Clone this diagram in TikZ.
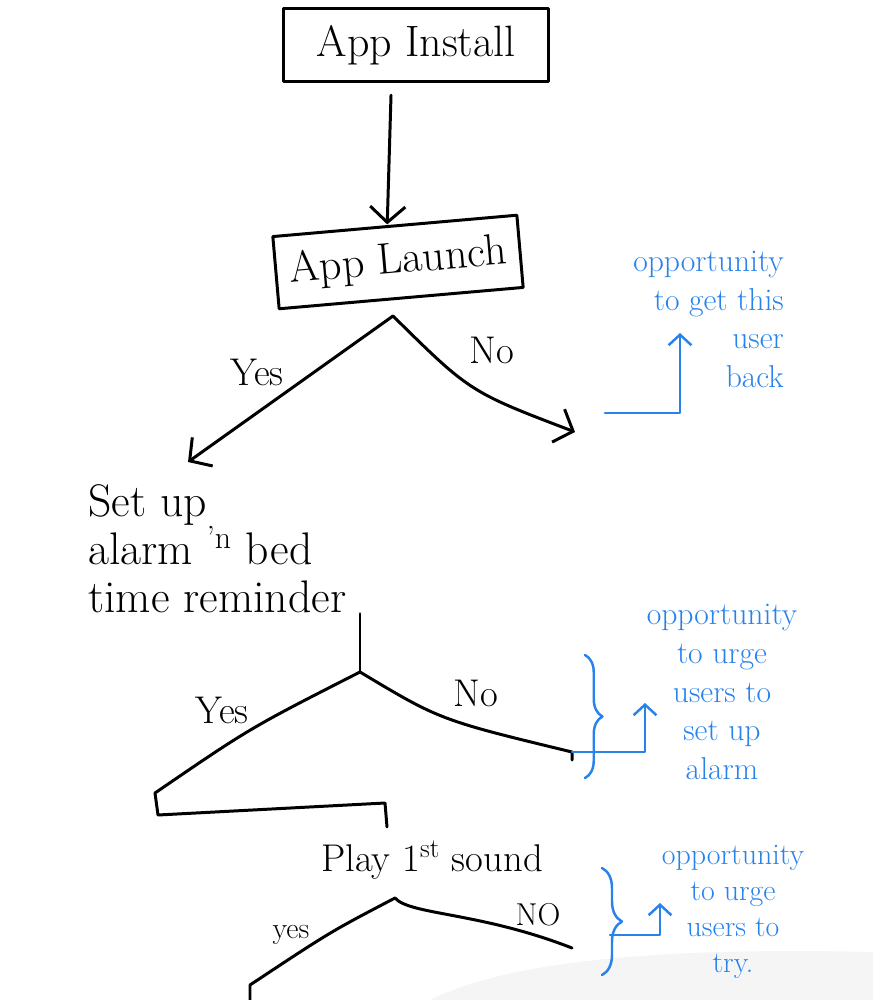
\documentclass[tikz,border=0pt]{standalone}
\usepackage{tikz}
\usetikzlibrary{
	arrows.meta,
	positioning,
	calc,
	decorations.pathreplacing
}
\usepackage{xcolor}
\definecolor{penblue}{RGB}{40,130,235}

\begin{document}
\begin{tikzpicture}[x=0.02cm,y=-0.02cm,
	ink/.style={line width=1.7pt,line cap=round,line join=round},
	inkarrow/.style={ink,-{Straight Barb[length=9pt,width=20pt]}},
	stagebox/.style={draw,ink,minimum height=1.45cm,font=\fontsize{25}{28}\selectfont},
	stagetext/.style={align=left,inner sep=0pt,font=\fontsize{26}{27.5}\selectfont},
	choice/.style={font=\fontsize{22}{26}\selectfont},
	pen/.style={penblue,line width=1.4pt,line cap=round,line join=round},
	penarrow/.style={pen,-{Straight Barb[length=6pt,width=13pt]}},
	note/.style={text=penblue,align=center,font=\fontsize{18}{22}\selectfont},
	penbrace/.style={pen,decorate,decoration={brace,amplitude=#1}},
	penbrace/.default=0.35cm
	]
	
	\useasboundingbox (0,0) rectangle (873,1000);
	
	% shadow at the corner
	\fill[black!4] (430,1000) .. controls (520,955) and (700,948) .. (873,952) -- (873,1000) -- cycle;
	
	% first steps
	\node[stagebox,minimum width=5.3cm] (install) at (416,45) {App Install};
	\node[stagebox,minimum width=4.9cm,rotate=5] (launch) at (398,262) {App Launch};
	\draw[inkarrow] ([xshift=-0.5cm,yshift=-0.25cm]install.south) -- ([xshift=-0.15cm]launch.north);
	
	% launch: yes / no
	\coordinate (fork1) at (393,316);
	\coordinate (yes1end) at (188,462);
	\coordinate (no1end) at (575,432);
	\draw[inkarrow] (fork1) -- (yes1end);
	\draw[inkarrow] (fork1) .. controls (470,392) .. (no1end);
	\node[choice] (yes1) at (257,372) {Yes};
	\node[choice] (no1) at (492,350) {No};
	
	\node[note,align=right,anchor=north east] (note1) at (790,245)
	{opportunity\\to get this\\user\\back};
	\coordinate (n1tail) at (605,413);
	\coordinate (n1tip) at (680,333);
	\draw[penarrow] (n1tail) -| (n1tip);
	
	% alarm step
	\node[stagetext,anchor=north west] (alarm) at (88,484)
	{Set up\\alarm \textsuperscript{'n} bed\\time reminder};
	\coordinate (fork2) at (360,672);
	\coordinate (yes2end) at (155,793);
	\coordinate (no2end) at (572,752);
	\draw[ink] (alarm.south -| fork2) -- (fork2);
	\draw[ink] (fork2) .. controls (250,728) .. (yes2end) -- ++(3,22) -- ++(227,-12) -- ++(2,24);
	\draw[ink] (fork2) .. controls (440,720) .. (no2end) -- ++(0,8);
	\node[choice] (yes2) at (222,710) {Yes};
	\node[choice] (no2) at (476,693) {No};
	
	\node[note] (note2) at (722,692) {opportunity\\to urge\\users to\\set up\\alarm};
	\draw[penbrace=0.35cm] (585,655) -- (585,778);
	\coordinate (n2tip) at (645,703);
	\draw[penarrow] (no2end) -| (n2tip);
	
	% sound step
	\node[font=\fontsize{22}{26}\selectfont] (play) at (432,860) {Play 1\textsuperscript{st} sound};
	\coordinate (fork3) at (395,898);
	\coordinate (yes3end) at (250,985);
	\coordinate (no3end) at (572,948);
	\draw[ink] (fork3) .. controls (330,932) .. (yes3end) -- ++(0,18);
	\draw[ink] (fork3) .. controls (410,915) and (480,912) .. (no3end);
	\node[choice,font=\fontsize{17}{20}\selectfont] (yes3) at (291,935) {yes};
	\node[choice,font=\fontsize{18}{21}\selectfont] (no3) at (538,915) {NO};
	
	\node[note,font=\fontsize{17}{20.5}\selectfont] (note3) at (733,912)
	{opportunity\\to urge\\users to\\try.};
	\draw[penbrace=0.4cm] (602,868) -- (602,975);
	\coordinate (n3tail) at (610,935);
	\coordinate (n3tip) at (660,903);
	\draw[penarrow] (n3tail) -| (n3tip);
	
\end{tikzpicture}
\end{document}
